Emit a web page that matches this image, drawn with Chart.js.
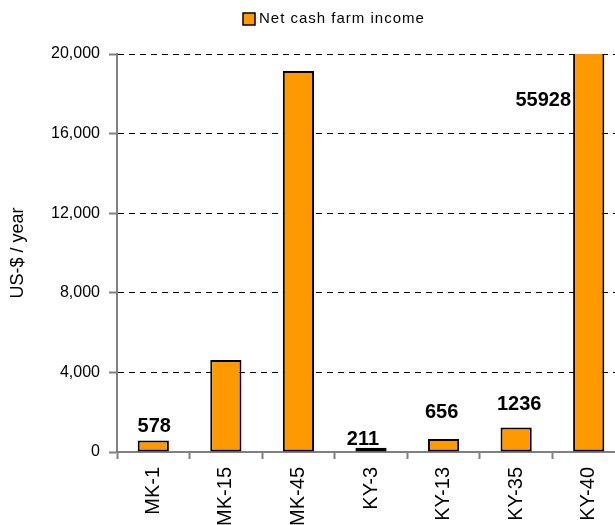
<!DOCTYPE html>
<html>
<head>
<meta charset="utf-8">
<script src="https://cdn.jsdelivr.net/npm/chart.js@4"></script>
<style>
    html, body { margin: 0; padding: 0; background: #fff; overflow: hidden; }
    #wrap { width: 640px; height: 525px; }
</style>
</head>
<body>
<div id="wrap"><canvas id="incomeChart" width="640" height="525"></canvas></div>
<script>
// farms and net cash farm income (US-$ / year)
const farms = ['MK-1', 'MK-15', 'MK-45', 'KY-3', 'KY-13', 'KY-35', 'KY-40'];
const netCashIncome = [578, 4620, 19150, 211, 656, 1236, 55928];
const showValue = [true, false, false, true, true, true, true];
const yTicks = [0, 4000, 8000, 12000, 16000, 20000];
const seriesName = 'Net cash farm income';

const FONT = '"Liberation Sans", Arial, sans-serif';

// nudge of each value label: [dx, distance above bar top]
const labelNudge = [[1, 14], [0, 14], [0, 14], [-8, 8], [-2, 26], [3, 23], [0, 0]];

const valueLabels = {
    id: 'valueLabels',
    afterDatasetsDraw(chart) {
        const ctx = chart.ctx;
        const meta = chart.getDatasetMeta(0);
        const area = chart.chartArea;
        const yMax = chart.scales.y.max;
        ctx.save();
        ctx.font = 'bold 20px ' + FONT;
        ctx.fillStyle = '#000';
        ctx.textBaseline = 'middle';
        meta.data.forEach((bar, i) => {
            if (!showValue[i]) return;
            const v = netCashIncome[i];
            if (v > yMax) {
                // bar runs off the top, label goes beside it
                ctx.textAlign = 'right';
                ctx.fillText(String(v), bar.x - bar.width / 2 - 2, area.top + 46);
            } else {
                ctx.textAlign = 'center';
                ctx.fillText(String(v), bar.x + labelNudge[i][0], bar.y - labelNudge[i][1]);
            }
        });
        ctx.restore();
    }
};

// simple legend with the spaced-out lettering of the original
const topLegend = {
    id: 'topLegend',
    afterDraw(chart) {
        const ctx = chart.ctx;
        const ds = chart.data.datasets[0];
        ctx.save();
        ctx.fillStyle = ds.backgroundColor;
        ctx.fillRect(243, 13, 12, 12);
        ctx.strokeStyle = '#000';
        ctx.lineWidth = 1.5;
        ctx.strokeRect(243, 13, 12, 12);
        ctx.font = '15px ' + FONT;
        ctx.letterSpacing = '1px';
        ctx.fillStyle = '#000';
        ctx.textAlign = 'left';
        ctx.textBaseline = 'middle';
        ctx.fillText(ds.label, 259, 19);
        ctx.restore();
    }
};

const ctx = document.getElementById('incomeChart').getContext('2d');

new Chart(ctx, {
    type: 'bar',
    data: {
        labels: farms,
        datasets: [{
            label: seriesName,
            data: netCashIncome,
            backgroundColor: '#FF9900',
            borderColor: '#000',
            borderWidth: 2,
            borderSkipped: false,
            barPercentage: 0.43,
            categoryPercentage: 1
        }]
    },
    options: {
        responsive: false,
        animation: false,
        layout: {
            padding: { left: 0, right: 15, top: 54, bottom: 0 }
        },
        plugins: {
            legend: { display: false },
            tooltip: { enabled: false }
        },
        scales: {
            x: {
                grid: {
                    drawOnChartArea: false,
                    drawTicks: true,
                    tickLength: 7,
                    tickColor: '#808080',
                    tickWidth: 2
                },
                border: { display: true, color: '#808080', width: 2 },
                ticks: {
                    color: '#000',
                    autoSkip: false,
                    minRotation: 90,
                    maxRotation: 90,
                    padding: 8,
                    font: { family: FONT, size: 20 }
                },
                afterFit(scale) { scale.height = 73; }
            },
            y: {
                min: 0,
                max: 20000,
                afterBuildTicks(scale) {
                    scale.ticks = yTicks.map(v => ({ value: v }));
                },
                grid: {
                    color: '#000',
                    lineWidth: 1,
                    tickLength: 8,
                    tickColor: '#808080',
                    tickBorderDash: [],
                    tickWidth: 2
                },
                border: { display: true, color: '#808080', width: 2, dash: [6, 5] },
                ticks: {
                    color: '#000',
                    padding: 9,
                    font: { family: FONT, size: 16 },
                    callback: v => v.toLocaleString('en-US')
                },
                title: {
                    display: true,
                    text: 'US-$ / year',
                    color: '#000',
                    padding: { top: 7, bottom: 0 },
                    font: { family: FONT, size: 18 }
                },
                afterFit(scale) { scale.width = 117; }
            }
        }
    },
    plugins: [valueLabels, topLegend]
});
</script>
</body>
</html>
